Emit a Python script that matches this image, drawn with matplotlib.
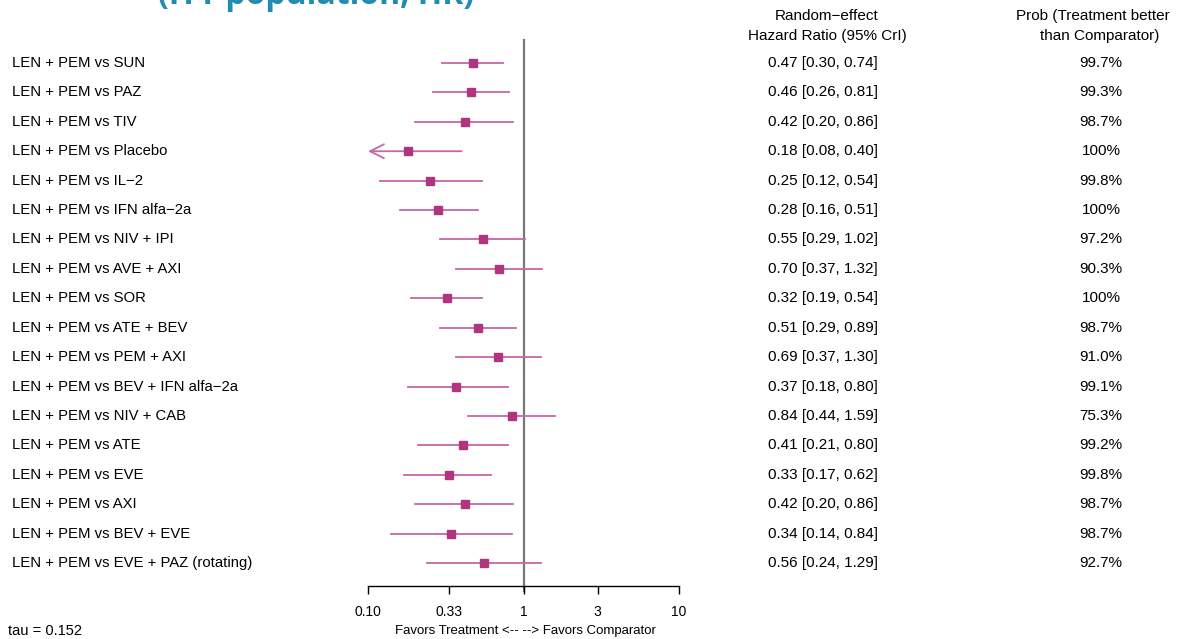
import matplotlib.pyplot as plt
import matplotlib.transforms as mtransforms

plt.rcParams['font.family'] = ['Liberation Sans', 'DejaVu Sans']

comparators = ["SUN", "PAZ", "TIV", "Placebo", "IL\u22122", "IFN alfa\u22122a", "NIV + IPI",
               "AVE + AXI", "SOR", "ATE + BEV", "PEM + AXI", "BEV + IFN alfa\u22122a",
               "NIV + CAB", "ATE", "EVE", "AXI", "BEV + EVE", "EVE + PAZ (rotating)"]
hr = [0.47, 0.46, 0.42, 0.18, 0.25, 0.28, 0.55, 0.70, 0.32, 0.51, 0.69, 0.37,
      0.84, 0.41, 0.33, 0.42, 0.34, 0.56]
lower = [0.30, 0.26, 0.20, 0.08, 0.12, 0.16, 0.29, 0.37, 0.19, 0.29, 0.37, 0.18,
         0.44, 0.21, 0.17, 0.20, 0.14, 0.24]
upper = [0.74, 0.81, 0.86, 0.40, 0.54, 0.51, 1.02, 1.32, 0.54, 0.89, 1.30, 0.80,
         1.59, 0.80, 0.62, 0.86, 0.84, 1.29]
prob = ["99.7%", "99.3%", "98.7%", "100%", "99.8%", "100%", "97.2%", "90.3%", "100%",
        "98.7%", "91.0%", "99.1%", "75.3%", "99.2%", "99.8%", "98.7%", "98.7%", "92.7%"]
tick_vals = [0.1, 0.33, 1, 3, 10]
tick_labels = ["0.10", "0.33", "1", "3", "10"]

W, H = 1178, 639
fig = plt.figure(figsize=(W / 100, H / 100), dpi=100)

# axes: x 368..679 px, y 40..586 px
ax = fig.add_axes([368 / W, 1 - 586 / H, (679 - 368) / W, (586 - 40) / H])
ax.set_xscale('log')
ax.set_xlim(0.1, 10)
step = 29.41
ax.set_ylim((586 - 63) / step, (40 - 63) / step)

mark_col = '#b0347f'
line_col = '#c766a4'
xmin = 0.1

for i in range(len(hr)):
    lo = lower[i]
    if lo < xmin:
        ax.annotate('', xy=(xmin, i), xytext=(upper[i], i),
                    arrowprops=dict(arrowstyle='->,head_length=1.0,head_width=0.5',
                                    color=line_col, lw=1.3, shrinkA=0, shrinkB=0),
                    annotation_clip=False)
    else:
        ax.plot([lo, upper[i]], [i, i], color=line_col, lw=1.3, clip_on=False)
    ax.plot(hr[i], i, marker='s', ms=5.5, color=mark_col, clip_on=False, zorder=3)

ax.axvline(1, color='#777777', lw=1.6, ymin=-0.01, zorder=1, clip_on=False)

for s in ['top', 'right', 'left']:
    ax.spines[s].set_visible(False)
ax.spines['bottom'].set_linewidth(1.0)
ax.set_yticks([])
ax.set_xticks(tick_vals)
ax.set_xticklabels(tick_labels, fontsize=10)
ax.minorticks_off()
ax.tick_params(axis='x', direction='out', length=6, width=1, pad=8)

fs = 11
trans = mtransforms.blended_transform_factory(fig.transFigure, ax.transData)
for i in range(len(hr)):
    ax.text(12 / W, i, "LEN + PEM vs " + comparators[i], transform=trans,
            ha='left', va='center', fontsize=10.7)
    ax.text(823 / W, i, f"{hr[i]:.2f} [{lower[i]:.2f}, {upper[i]:.2f}]", transform=trans,
            ha='center', va='center', fontsize=fs)
    ax.text(1101 / W, i, prob[i], transform=trans, ha='center', va='center', fontsize=fs)

fig.text(827 / W, 1 - 16 / H, "Random\u2212effect", ha='center', va='center', fontsize=fs)
fig.text(827 / W, 1 - 36 / H, "Hazard Ratio (95% CrI)", ha='center', va='center', fontsize=fs)
fig.text(1093 / W, 1 - 16 / H, "Prob (Treatment better", ha='center', va='center', fontsize=fs)
fig.text(1100 / W, 1 - 36 / H, "than Comparator)", ha='center', va='center', fontsize=fs)

fig.text(525 / W, 1 - 631 / H, "Favors Treatment <-- --> Favors Comparator",
         ha='center', va='center', fontsize=9.5)
fig.text(8 / W, 1 - 631 / H, "tau = 0.152", ha='left', va='center', fontsize=10.5)

fig.text(316 / W, 1 - 4 / H, "(ITT population, HR)", ha='center', va='baseline',
         fontsize=23, fontweight='bold', color='#1f8cb0', family=['Open Sans', 'DejaVu Sans'])

fig.savefig('out.png', dpi=100)
